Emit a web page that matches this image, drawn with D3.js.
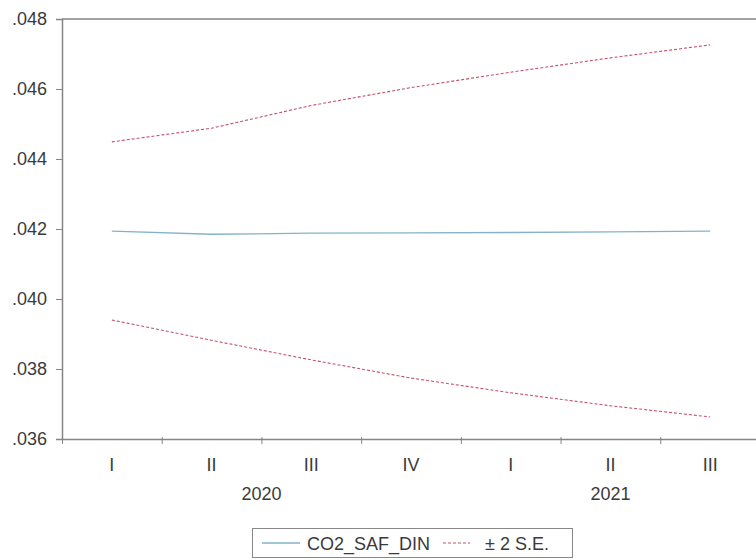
<!DOCTYPE html>
<html>
<head>
<meta charset="utf-8">
<script src="https://cdn.jsdelivr.net/npm/d3@7"></script>
<style>
  html, body { margin: 0; padding: 0; background: #fff; overflow: hidden; }
  svg { display: block; font-family: "Liberation Sans", Arial, sans-serif; }
</style>
</head>
<body>
<svg id="chart" width="756" height="560"></svg>
<script>
// Quarterly forecast of CO2_SAF_DIN with a ±2 standard-error band
const quarters = ["I", "II", "III", "IV", "I", "II", "III"];
const years = [
  { label: "2020", start: 0, end: 4 },
  { label: "2021", start: 4, end: 7 }
];
const forecast = [0.04194, 0.04185, 0.04188, 0.04189, 0.04190, 0.04192, 0.04194];
const upperBand = [0.04449, 0.04488, 0.04553, 0.04604, 0.04648, 0.04689, 0.04726];
const lowerBand = [0.03940, 0.03882, 0.03826, 0.03774, 0.03732, 0.03695, 0.03663];
const yTicks = [0.036, 0.038, 0.040, 0.042, 0.044, 0.046, 0.048];

const svg = d3.select("#chart");
const plot = { left: 62, right: 760, top: 19, bottom: 439 };
const axisColor = "#858585";
const textColor = "#3a3a3a";
const fontSize = 18;

const x = d3.scaleLinear().domain([0, quarters.length]).range([plot.left, plot.right]);
const y = d3.scaleLinear().domain([0.036, 0.048]).range([plot.bottom, plot.top]);

// top border of the plot frame
svg.append("line")
  .attr("x1", plot.left).attr("x2", plot.right)
  .attr("y1", plot.top).attr("y2", plot.top)
  .attr("stroke", axisColor).attr("stroke-width", 1.5);

// left value axis
const yAxis = svg.append("g")
  .attr("transform", `translate(${plot.left},0)`)
  .call(d3.axisLeft(y).tickValues(yTicks).tickSize(6).tickPadding(9)
    .tickFormat(d => d3.format(".3f")(d).replace(/^0/, "")));
yAxis.select(".domain").attr("stroke", axisColor).attr("stroke-width", 1.5);
yAxis.selectAll(".tick line").attr("stroke", axisColor);
yAxis.selectAll(".tick text")
  .attr("fill", textColor).attr("font-size", fontSize)
  .attr("font-family", "Liberation Sans, Arial, sans-serif");

// bottom time axis, ticks on quarter boundaries
const xAxis = svg.append("g")
  .attr("transform", `translate(0,${plot.bottom})`)
  .call(d3.axisBottom(x).tickValues(d3.range(0, quarters.length + 1))
    .tickSize(5).tickSizeOuter(0).tickFormat(""));
xAxis.select(".domain").attr("stroke", axisColor).attr("stroke-width", 1.5);
xAxis.selectAll(".tick line").attr("stroke", axisColor).attr("y1", -2);

// quarter labels centred within each quarter
svg.append("g").selectAll("text")
  .data(quarters)
  .join("text")
  .attr("x", (d, i) => x(i + 0.5))
  .attr("y", plot.bottom + 32)
  .attr("text-anchor", "middle")
  .attr("font-size", fontSize)
  .attr("fill", textColor)
  .text(d => d);

// year labels centred under their quarters
svg.append("g").selectAll("text")
  .data(years)
  .join("text")
  .attr("x", d => x((d.start + d.end) / 2))
  .attr("y", plot.bottom + 61)
  .attr("text-anchor", "middle")
  .attr("font-size", fontSize)
  .attr("fill", textColor)
  .text(d => d.label);

const line = d3.line()
  .x((d, i) => x(i + 0.5))
  .y(d => y(d));

const bandColor = "#c8506a";
const forecastColor = "#82b4c6";

[upperBand, lowerBand].forEach(series => {
  svg.append("path")
    .datum(series)
    .attr("d", line)
    .attr("fill", "none")
    .attr("stroke", bandColor)
    .attr("stroke-width", 1.1)
    .attr("stroke-dasharray", "3,2");
});

svg.append("path")
  .datum(forecast)
  .attr("d", line)
  .attr("fill", "none")
  .attr("stroke", forecastColor)
  .attr("stroke-width", 1.3);

// legend
const legend = svg.append("g");
legend.append("rect")
  .attr("x", 252.5).attr("y", 528.5)
  .attr("width", 320).attr("height", 29)
  .attr("fill", "#fff").attr("stroke", "#888").attr("stroke-width", 1);
legend.append("line")
  .attr("x1", 262).attr("x2", 300).attr("y1", 543).attr("y2", 543)
  .attr("stroke", forecastColor).attr("stroke-width", 1.3);
legend.append("text")
  .attr("x", 307).attr("y", 549.5)
  .attr("font-size", fontSize).attr("fill", textColor)
  .text("CO2_SAF_DIN");
legend.append("line")
  .attr("x1", 443).attr("x2", 470).attr("y1", 543).attr("y2", 543)
  .attr("stroke", bandColor).attr("stroke-width", 1.1)
  .attr("stroke-dasharray", "3,2");
legend.append("text")
  .attr("x", 485).attr("y", 549.5)
  .attr("font-size", fontSize).attr("fill", textColor)
  .text("± 2 S.E.");
</script>
</body>
</html>
